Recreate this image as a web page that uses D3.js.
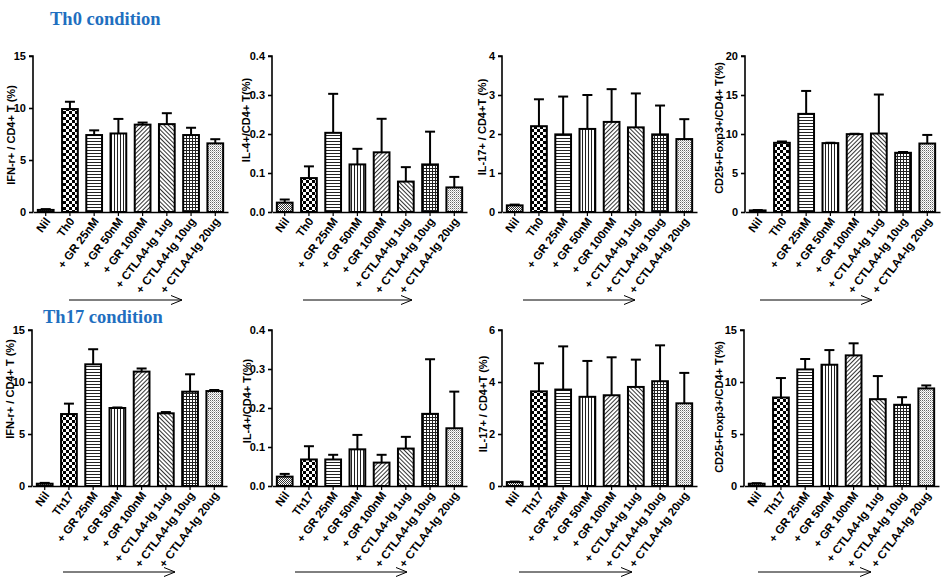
<!DOCTYPE html>
<html><head><meta charset="utf-8">
<script src="https://cdn.jsdelivr.net/npm/d3@7"></script>
<style>
html,body{margin:0;padding:0;background:#fff;}
svg text{font-family:"Liberation Sans",Arial,sans-serif;font-weight:bold;}
</style></head>
<body>
<svg id="chart" width="949" height="581"></svg>
<script>
// ---------- data ----------
const catsTh0  = ["Nil","Th0","+ GR 25nM","+ GR 50nM","+ GR 100nM","+ CTLA4-Ig 1ug","+ CTLA4-Ig 10ug","+ CTLA4-Ig 20ug"];
const catsTh17 = ["Nil","Th17","+ GR 25nM","+ GR 50nM","+ GR 100nM","+ CTLA4-Ig 1ug","+ CTLA4-Ig 10ug","+ CTLA4-Ig 20ug"];

const ifnTh0      = [0.2, 9.9, 7.4, 7.55, 8.4, 8.45, 7.4, 6.6];
const ifnTh0Err   = [0.08, 0.7, 0.45, 1.4, 0.2, 1.05, 0.7, 0.4];
const il4Th0      = [0.024, 0.087, 0.203, 0.122, 0.153, 0.078, 0.122, 0.063];
const il4Th0Err   = [0.008, 0.03, 0.1, 0.04, 0.086, 0.037, 0.084, 0.027];
const il17Th0     = [0.17, 2.2, 1.99, 2.13, 2.31, 2.17, 1.99, 1.87];
const il17Th0Err  = [0.02, 0.69, 0.97, 0.87, 0.84, 0.87, 0.74, 0.51];
const tregTh0     = [0.2, 8.87, 12.58, 8.83, 9.98, 10.06, 7.59, 8.78];
const tregTh0Err  = [0.05, 0.17, 2.94, 0.05, 0.05, 5.0, 0.1, 1.1];

const ifnTh17     = [0.22, 6.92, 11.7, 7.5, 11.0, 6.99, 9.07, 9.13];
const ifnTh17Err  = [0.08, 1.0, 1.45, 0.05, 0.3, 0.12, 1.67, 0.1];
const il4Th17     = [0.024, 0.068, 0.068, 0.094, 0.06, 0.096, 0.185, 0.148];
const il4Th17Err  = [0.007, 0.034, 0.012, 0.037, 0.02, 0.03, 0.14, 0.094];
const il17Th17    = [0.15, 3.64, 3.71, 3.43, 3.49, 3.81, 4.03, 3.18];
const il17Th17Err = [0.02, 1.08, 1.66, 1.38, 1.46, 1.05, 1.38, 1.17];
const tregTh17    = [0.22, 8.51, 11.21, 11.66, 12.56, 8.35, 7.81, 9.38];
const tregTh17Err = [0.05, 1.87, 1.0, 1.41, 1.16, 2.22, 0.73, 0.29];

const ticksIfn   = [0, 5, 10, 15];
const ticksIl4   = [0.0, 0.1, 0.2, 0.3, 0.4];
const ticksIl17a = [0, 1, 2, 3, 4];
const ticksIl17b = [0, 2, 4, 6];
const ticksTreg0 = [0, 5, 10, 15, 20];
const ticksTreg1 = [0, 5, 10, 15];

const labelIfn  = "IFN-r+ / CD4+ T (%)";
const labelIl4  = "IL-4+/CD4+ T(%)";
const labelIl17 = "IL-17+ / CD4+T (%)";
const labelTreg = "CD25+Foxp3+/CD4+ T(%)";

const titles = ["Th0 condition", "Th17 condition"];

// ---------- panels ----------
const panels = [
  {cats:catsTh0,  vals:ifnTh0,   errs:ifnTh0Err,   ticks:ticksIfn,   fmt:"d",   label:labelIfn,  row:0, ax:33,  lx:11,  ly:135, ar:[69,182]},
  {cats:catsTh0,  vals:il4Th0,   errs:il4Th0Err,   ticks:ticksIl4,   fmt:".1f", label:labelIl4,  row:0, ax:272, lx:246, ly:120, ar:[303,412]},
  {cats:catsTh0,  vals:il17Th0,  errs:il17Th0Err,  ticks:ticksIl17a, fmt:"d",   label:labelIl17, row:0, ax:502, lx:482, ly:127, ar:[523,635]},
  {cats:catsTh0,  vals:tregTh0,  errs:tregTh0Err,  ticks:ticksTreg0, fmt:"d",   label:labelTreg, row:0, ax:745, lx:719, ly:128, ar:[760,872]},
  {cats:catsTh17, vals:ifnTh17,  errs:ifnTh17Err,  ticks:ticksIfn,   fmt:"d",   label:labelIfn,  row:1, ax:32,  lx:10,  ly:389, ar:[63,175]},
  {cats:catsTh17, vals:il4Th17,  errs:il4Th17Err,  ticks:ticksIl4,   fmt:".1f", label:labelIl4,  row:1, ax:272, lx:247, ly:401, ar:[295,407]},
  {cats:catsTh17, vals:il17Th17, errs:il17Th17Err, ticks:ticksIl17b, fmt:"d",   label:labelIl17, row:1, ax:502, lx:483, ly:404, ar:[519,632]},
  {cats:catsTh17, vals:tregTh17, errs:tregTh17Err, ticks:ticksTreg1, fmt:"d",   label:labelTreg, row:1, ax:744, lx:719, ly:407, ar:[758,871]}
];
const rows = [
  {top:56,  bottom:212, arrowY:300, titleX:50, titleY:25},
  {top:330, bottom:486, arrowY:572, titleX:43, titleY:323}
];
const plotW = 195;

const svg = d3.select("#chart");
const defs = svg.append("defs");

// ---------- hatch patterns ----------
function pat(id, size, transform) {
  const p = defs.append("pattern").attr("id", id).attr("patternUnits","userSpaceOnUse")
    .attr("width", size).attr("height", size);
  if (transform) p.attr("patternTransform", transform);
  p.append("rect").attr("width", size).attr("height", size).attr("fill","#fff");
  return p;
}
let p = pat("p0", 2); p.append("rect").attr("width",1).attr("height",1).attr("fill","#333");
p.append("rect").attr("x",1).attr("y",1).attr("width",1).attr("height",1).attr("fill","#333");
p = pat("p1", 6); p.append("rect").attr("width",3).attr("height",3).attr("fill","#000");
p.append("rect").attr("x",3).attr("y",3).attr("width",3).attr("height",3).attr("fill","#000");
p = pat("p2", 3); p.append("rect").attr("width",3).attr("height",1).attr("fill","#222");
p = pat("p3", 3); p.append("rect").attr("width",1).attr("height",3).attr("fill","#222");
p = pat("p4", 3, "rotate(45)"); p.append("rect").attr("width",1).attr("height",3).attr("fill","#333");
p = pat("p5", 3, "rotate(-45)"); p.append("rect").attr("width",1).attr("height",3).attr("fill","#333");
p = pat("p6", 3); p.append("rect").attr("width",3).attr("height",1).attr("fill","#222");
p.append("rect").attr("width",1).attr("height",3).attr("fill","#222");
p = pat("p7", 2); p.append("rect").attr("width",1).attr("height",1).attr("fill","#666");
p.append("rect").attr("x",1).attr("y",1).attr("width",1).attr("height",1).attr("fill","#bbb");

defs.append("marker").attr("id","arr").attr("viewBox","0 0 12 10").attr("refX",11).attr("refY",5)
  .attr("markerWidth",12).attr("markerHeight",10).attr("markerUnits","userSpaceOnUse").attr("orient","auto")
  .append("path").attr("d","M0,0.5 L11,5 L0,9.5").attr("fill","none").attr("stroke","#000").attr("stroke-width",1);

rows.forEach((r,i) => {
  svg.append("text").attr("x", r.titleX).attr("y", r.titleY)
    .style("font-family",'"Liberation Serif","Times New Roman",serif').style("font-weight","bold")
    .style("font-size","18.5px").attr("fill","#1f6fc0").text(titles[i]);
});

panels.forEach(pn => {
  const r = rows[pn.row];
  const g = svg.append("g");
  const x = d3.scaleBand().domain(pn.cats).range([pn.ax, pn.ax + plotW]).paddingInner(0.35).paddingOuter(0.2);
  const y = d3.scaleLinear().domain([pn.ticks[0], pn.ticks[pn.ticks.length-1]]).range([r.bottom, r.top]);
  const data = pn.cats.map((c,i) => ({c, v:pn.vals[i], e:pn.errs[i], i}));

  const eb = g.selectAll(".eb").data(data).enter().append("g");
  eb.append("line").attr("x1", d => x(d.c)+x.bandwidth()/2).attr("x2", d => x(d.c)+x.bandwidth()/2)
    .attr("y1", d => y(d.v)).attr("y2", d => y(d.v+d.e)).attr("stroke","#000").attr("stroke-width",2);
  eb.append("line").attr("x1", d => x(d.c)+x.bandwidth()/2-5).attr("x2", d => x(d.c)+x.bandwidth()/2+5)
    .attr("y1", d => y(d.v+d.e)).attr("y2", d => y(d.v+d.e)).attr("stroke","#000").attr("stroke-width",2);

  g.selectAll(".bar").data(data).enter().append("rect")
    .attr("x", d => x(d.c)).attr("width", x.bandwidth())
    .attr("y", d => y(d.v)).attr("height", d => y(0) - y(d.v))
    .attr("fill", d => `url(#p${d.i})`).attr("stroke","#000").attr("stroke-width",2);

  const ya = d3.axisLeft(y).tickValues(pn.ticks).tickSize(4).tickPadding(3).tickFormat(d3.format(pn.fmt));
  const yg = g.append("g").attr("transform",`translate(${pn.ax},0)`).call(ya);
  yg.select(".domain").attr("stroke-width",1.6).attr("d", `M-4,${r.top}H0V${r.bottom}`);
  yg.selectAll(".tick line").attr("stroke-width",1.6);
  yg.selectAll(".tick text").style("font-size","11px").attr("fill","#000");

  const xa = d3.axisBottom(x).tickSize(4).tickSizeOuter(0).tickFormat("");
  const xg = g.append("g").attr("transform",`translate(0,${r.bottom})`).call(xa);
  xg.select(".domain").attr("stroke-width",1.6);
  xg.selectAll(".tick line").attr("stroke-width",1.2);
  g.selectAll(".xl").data(pn.cats).enter().append("text")
    .attr("transform", c => `translate(${x(c)+x.bandwidth()/2+2},${r.bottom+7}) rotate(-53)`)
    .attr("text-anchor","end").attr("dy","0.35em").style("font-size","11.5px").text(c => c);

  g.append("text").attr("transform",`translate(${pn.lx},${pn.ly}) rotate(-90)`)
    .attr("text-anchor","middle").attr("dy","0.35em").style("font-size","11px").text(pn.label);

  g.append("line").attr("x1", pn.ar[0]).attr("x2", pn.ar[1]).attr("y1", r.arrowY).attr("y2", r.arrowY)
    .attr("stroke","#000").attr("stroke-width",1).attr("marker-end","url(#arr)");
});
</script>
</body></html>
